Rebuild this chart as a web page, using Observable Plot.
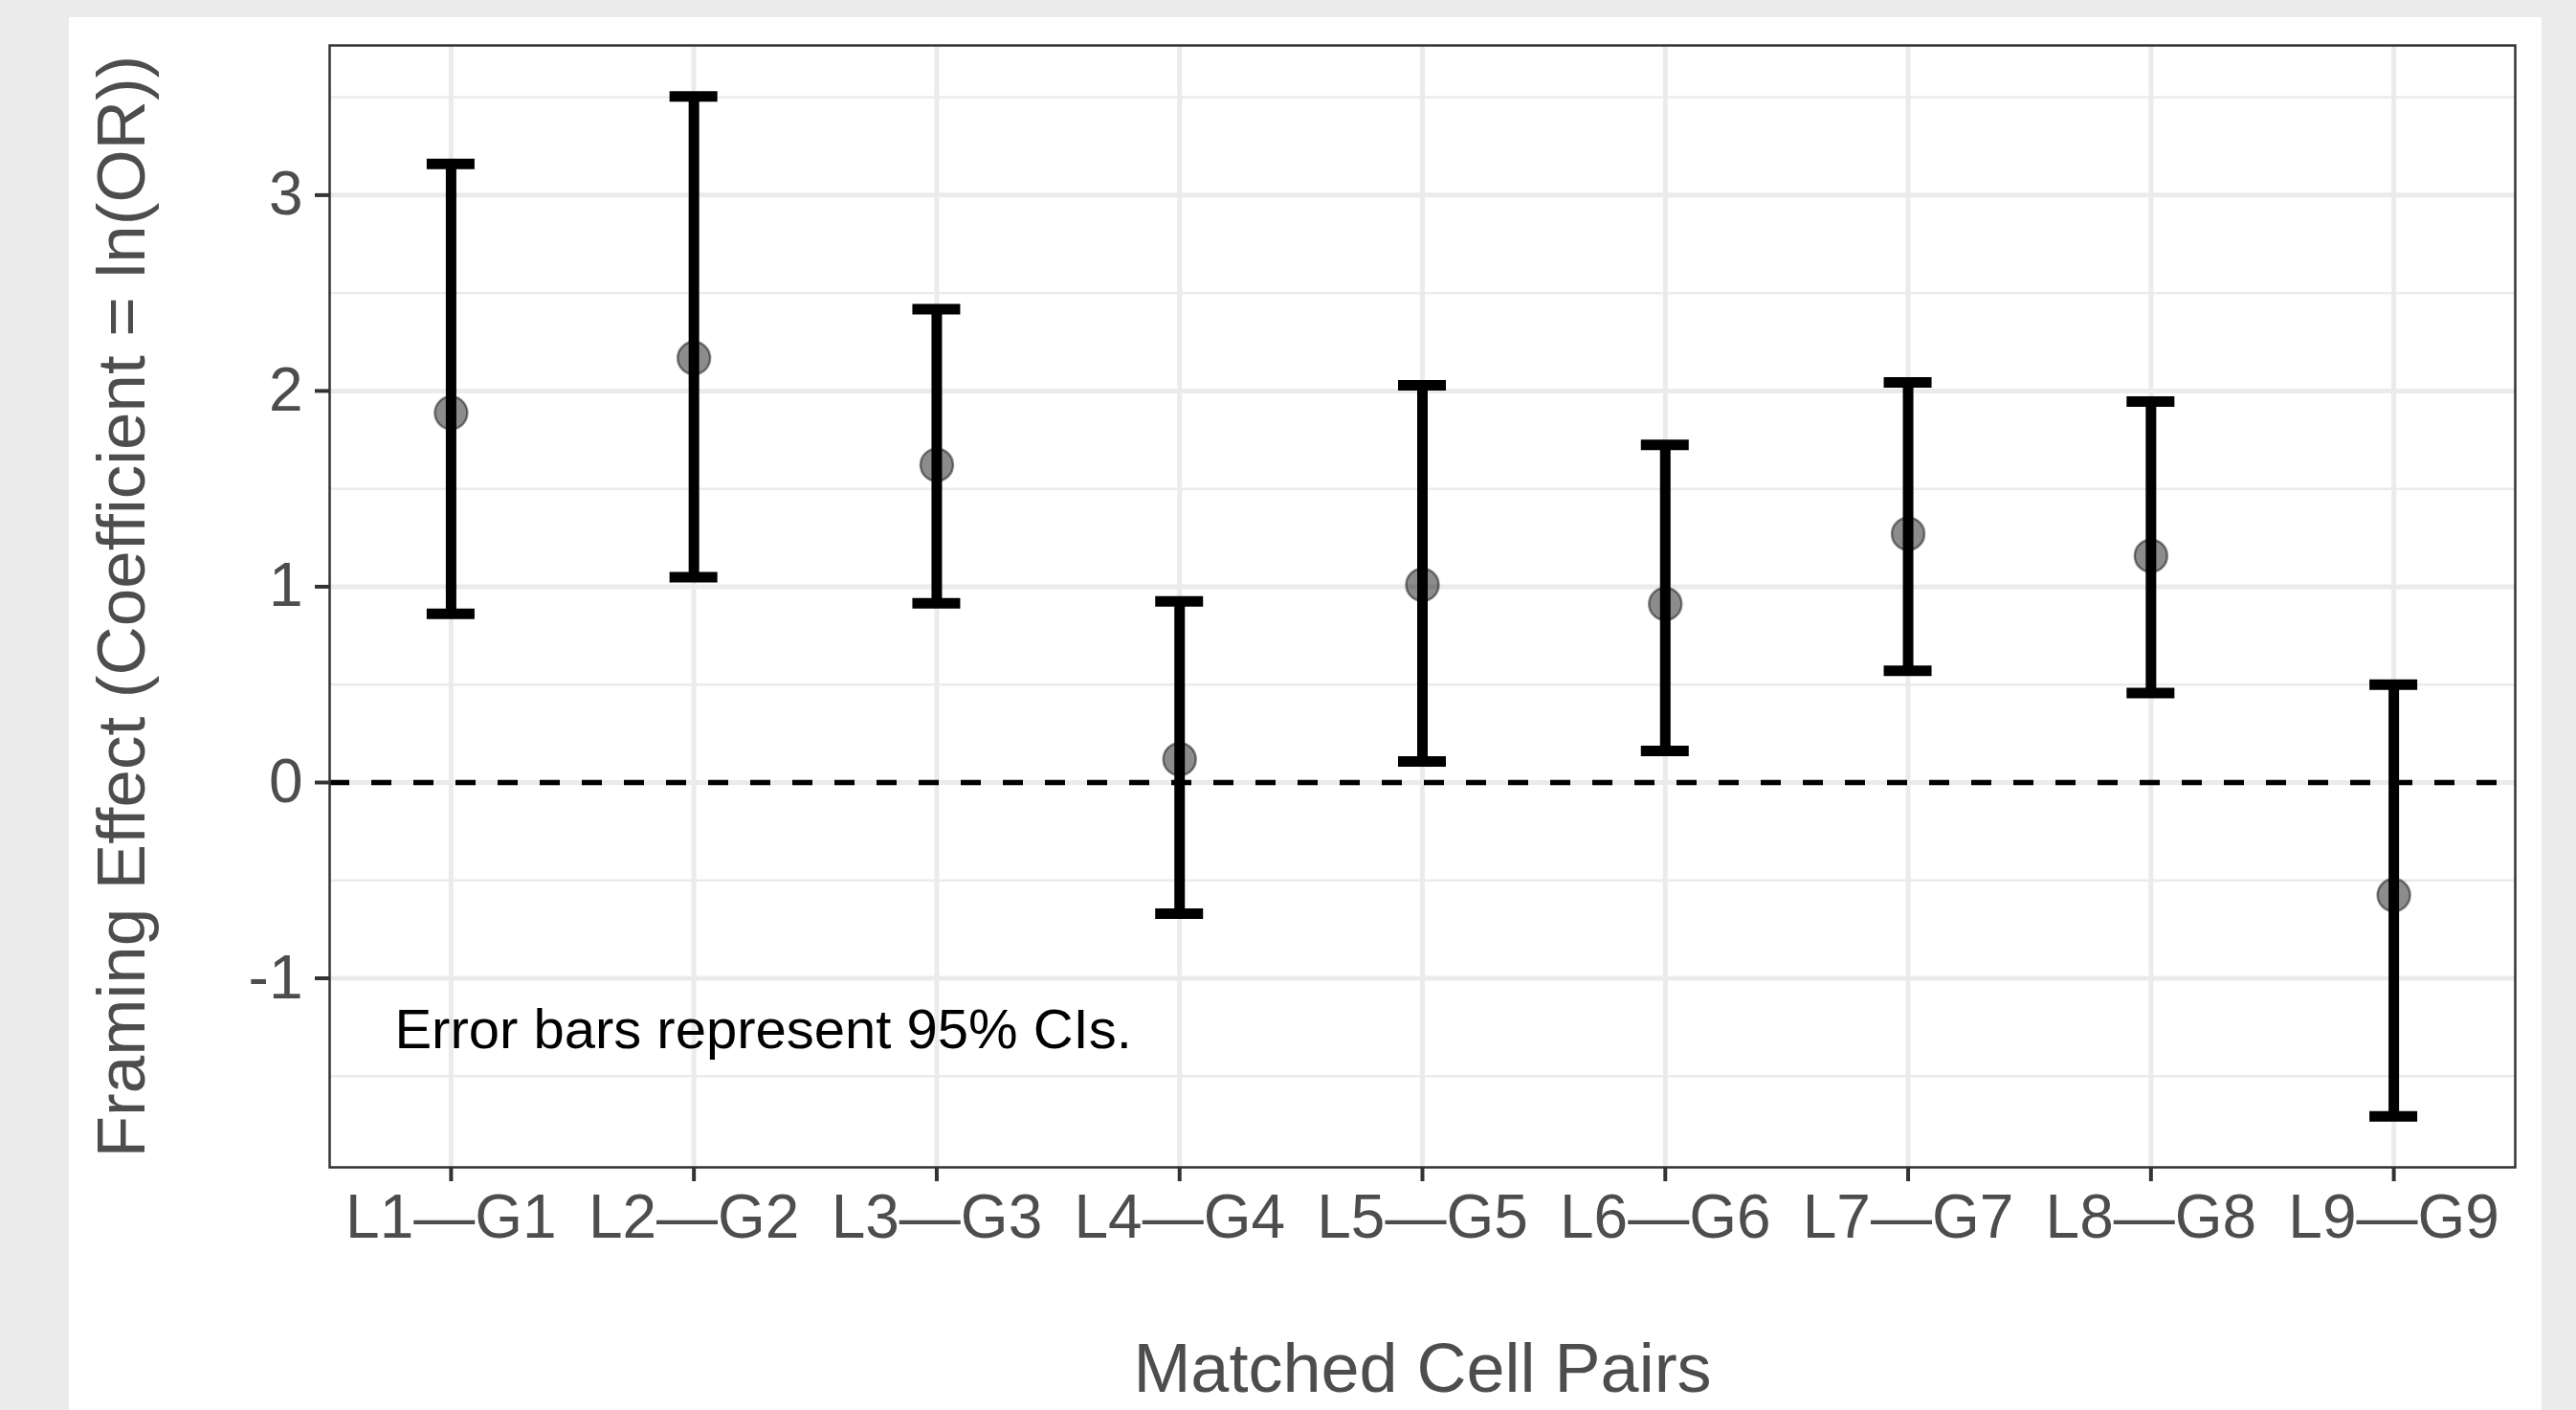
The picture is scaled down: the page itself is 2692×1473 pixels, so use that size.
<!DOCTYPE html>
<html>
<head>
<meta charset="utf-8">
<script src="https://cdn.jsdelivr.net/npm/d3@7"></script>
<script src="https://cdn.jsdelivr.net/npm/@observablehq/plot@0.6"></script>
<style>
html, body { margin: 0; padding: 0; background: #EBEBEB; overflow: hidden; width: 2692px; height: 1473px; }
#chart { position: absolute; left: 72px; top: 18px; width: 2584px; height: 1455px; background: #ffffff; }
#chart svg { display: block; }
</style>
</head>
<body>
<div id="chart"></div>
<script>
// ---- data ----
const pairs = ["L1—G1", "L2—G2", "L3—G3", "L4—G4", "L5—G5", "L6—G6", "L7—G7", "L8—G8", "L9—G9"];
const estimates = [1.888, 2.168, 1.622, 0.119, 1.010, 0.912, 1.270, 1.158, -0.575];
const lower = [0.862, 1.049, 0.916, -0.670, 0.108, 0.161, 0.571, 0.457, -1.705];
const upper = [3.160, 3.504, 2.417, 0.925, 2.029, 1.725, 2.043, 1.946, 0.500];
const yTicks = [-1, 0, 1, 2, 3];
const yTickLabels = ["-1", "0", "1", "2", "3"];
const yMinorTicks = [-1.5, -0.5, 0.5, 1.5, 2.5, 3.5];
const referenceLine = [0];
const xTitle = "Matched Cell Pairs";
const yTitle = "Framing Effect (Coefficient = ln(OR))";
const noteText = "Error bars represent 95% CIs.";
const noteX = "L1—G1";
const noteY = -1.25;

// ---- build table ----
const data = pairs.map((pair, i) => ({pair, est: estimates[i], lo: lower[i], hi: upper[i]}));
const noteData = [{x: noteX, y: noteY, t: noteText}];
const tickLabel = (d) => yTickLabels[yTicks.indexOf(d)];

// ggplot-style continuous expansion (5% each side)
const dMin = d3.min(lower), dMax = d3.max(upper);
const pad = (dMax - dMin) * 0.05;

const font = "'Liberation Sans', Arial, Helvetica, sans-serif";
const grid = "#EBEBEB";

const chart = Plot.plot({
  width: 2584,
  height: 1455,
  marginLeft: 272,
  marginRight: 28,
  marginTop: 29,
  marginBottom: 254,
  style: {background: "#ffffff", fontFamily: font},
  x: {type: "band", domain: pairs, paddingInner: 0.80298, paddingOuter: 0.40149, round: false},
  y: {domain: [dMin - pad, dMax + pad]},
  marks: [
    Plot.gridY(yMinorTicks, {stroke: grid, strokeOpacity: 1, strokeWidth: 2.5}),
    Plot.gridY(yTicks, {stroke: grid, strokeOpacity: 1, strokeWidth: 5}),
    Plot.gridX(pairs, {stroke: grid, strokeOpacity: 1, strokeWidth: 5}),
    Plot.ruleY(referenceLine, {stroke: "black", strokeWidth: 5.5, strokeDasharray: "21,23"}),
    Plot.ruleX(data, {x: "pair", y1: "lo", y2: "hi", stroke: "black", strokeWidth: 11}),
    Plot.tickY(data, {x: "pair", y: "hi", stroke: "black", strokeWidth: 11}),
    Plot.tickY(data, {x: "pair", y: "lo", stroke: "black", strokeWidth: 11}),
    Plot.dot(data, {x: "pair", y: "est", r: 17, fill: "black", fillOpacity: 0.45, stroke: "black", strokeOpacity: 0.45, strokeWidth: 2.5}),
    Plot.text(noteData, {x: "x", y: "y", text: "t", textAnchor: "start", dx: -59, dy: 3, fontSize: 58, fill: "black"}),
    Plot.axisY(yTicks, {tickSize: 15, tickPadding: 13, fontSize: 64, stroke: "#333333", strokeWidth: 4, fill: "#4D4D4D", label: null, tickFormat: tickLabel}),
    Plot.axisX(pairs, {tickSize: 15, tickPadding: 13, fontSize: 64, stroke: "#333333", strokeWidth: 4, fill: "#4D4D4D", label: null}),
    Plot.text([yTitle], {text: d => d, frameAnchor: "left", rotate: -90, textAnchor: "middle", lineAnchor: "bottom", dx: -194, fontSize: 71, fill: "#4D4D4D"}),
    Plot.text([xTitle], {text: d => d, frameAnchor: "bottom", lineAnchor: "bottom", dy: 234, fontSize: 72, fill: "#4D4D4D"}),
    Plot.frame({stroke: "#333333", strokeWidth: 2.5})
  ]
});
document.getElementById("chart").appendChild(chart);
</script>
</body>
</html>
